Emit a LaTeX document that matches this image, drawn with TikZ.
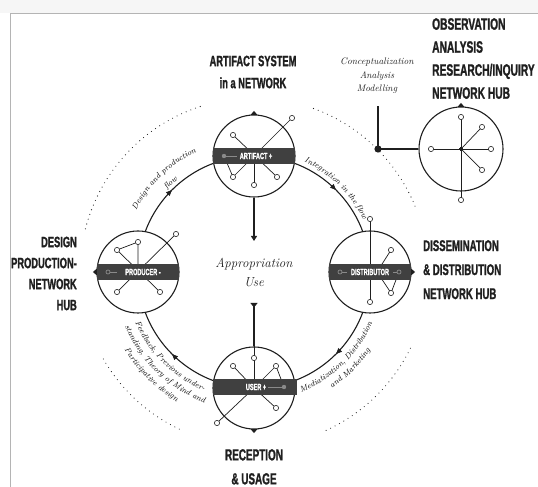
\documentclass[tikz,border=0pt]{standalone}
\usepackage{fontspec}
\usetikzlibrary{arrows.meta,decorations.markings,decorations.text}
\newfontfamily\headfont[FakeStretch=0.62,FakeBold=1.2]{Liberation Sans Bold}
\definecolor{ink}{HTML}{1F1F1F}
\definecolor{barfill}{HTML}{404040}
\definecolor{barline}{HTML}{8A8A8A}
\definecolor{framegray}{HTML}{B4B4B4}
\tikzset{
  ring/.style={draw=ink, line width=1.1pt},
  hubcircle/.style={circle, draw=ink, line width=1.1pt, fill=white, inner sep=0pt, minimum size=82pt},
  spoke/.style={draw=ink, line width=0.7pt},
  knob/.style={draw=ink, fill=white, line width=0.6pt},
  tagline/.style={draw=barline, line width=0.7pt},
  bartext/.style={text=white, inner sep=0pt, font=\headfont\fontsize{9}{9}\selectfont},
  heading/.style={text=ink, inner sep=0pt, font=\headfont\fontsize{15}{21}\selectfont},
  dotring/.style={draw=ink, line width=1.1pt, line cap=round, dash pattern=on 0pt off 5pt},
  curvetext/.style={decorate, decoration={text along path, text align=center, text={#1}}},
  tip/.style={fill=ink},
}
\newcommand\knob[1]{\filldraw[knob] #1 circle[radius=2.6pt];}
\newcommand\curvefont{\itshape\fontsize{8}{8}\selectfont}
\begin{document}
\begin{tikzpicture}[x=1pt,y=1pt]
  % page and frame
  \fill[white] (0,0) rectangle (538,487);
  \useasboundingbox (0,0) rectangle (538,487);
  \fill[gray!7] (0,474) rectangle (538,487);
  \draw[framegray, line width=0.8pt] (10,0) -- (10,474) -- (538,474);

  % outer dotted ring
  \draw[dotring] (254,215) ++(70:174pt) arc[start angle=70, end angle=22, radius=174pt];
  \draw[dotring] (254,215) ++(108:174pt) arc[start angle=108, end angle=166, radius=174pt];
  \draw[dotring] (254,215) ++(-26:174pt) arc[start angle=-26, end angle=-67, radius=174pt];
  \draw[dotring] (254,215) ++(210:174pt) arc[start angle=210, end angle=246, radius=174pt];

  % main flow ring, clockwise
  \draw[ring, postaction={decorate}, decoration={markings,
      mark=at position 0.125 with {\arrowreversed{Triangle[length=6pt,width=5pt]}},
      mark=at position 0.375 with {\arrowreversed{Triangle[length=6pt,width=5pt]}},
      mark=at position 0.625 with {\arrowreversed{Triangle[length=6pt,width=5pt]}},
      mark=at position 0.875 with {\arrowreversed{Triangle[length=6pt,width=5pt]}}}]
    (254,215) circle[radius=116pt];

  % flow labels
  \path[curvetext={|\curvefont|Design and production}] (254,215) ++(170:133pt) arc[start angle=170, end angle=98, radius=133pt];
  \path[curvetext={|\curvefont|flow}] (254,215) ++(160:120pt) arc[start angle=160, end angle=106, radius=120pt];
  \path[curvetext={|\curvefont|Integration in the flow}] (254,215) ++(85:121pt) arc[start angle=85, end angle=6, radius=121pt];
  \path[curvetext={|\curvefont|Mediatization, Distribution}] (254,215) ++(-92:129pt) arc[start angle=-92, end angle=0, radius=129pt];
  \path[curvetext={|\curvefont|and Marketing}] (254,215) ++(-80:140pt) arc[start angle=-80, end angle=-10, radius=140pt];
  \path[curvetext={|\curvefont|Feedback, Previous under-}] (254,215) ++(190:129pt) arc[start angle=190, end angle=260, radius=129pt];
  \path[curvetext={|\curvefont|standing, Theory of Mind and}] (254,215) ++(190:140pt) arc[start angle=190, end angle=262, radius=140pt];
  \path[curvetext={|\curvefont|Participative design}] (254,215) ++(195:151pt) arc[start angle=195, end angle=255, radius=151pt];

  % hub circles
  \node[hubcircle] (art) at (254,331) {};
  \node[hubcircle] (prod) at (138,215) {};
  \node[hubcircle] (dist) at (370,215) {};
  \node[hubcircle] (usr) at (254,99) {};
  \node[hubcircle, minimum size=84pt] (obs) at (461,338) {};

  % outward markers on the hubs
  \fill[tip] (art.north) ++(-3.5,-0.5) -- ++(7,0) -- ++(-3.5,4) -- cycle;
  \fill[tip] (prod.west) ++(0.5,-3.5) -- ++(0,7) -- ++(-4,-3.5) -- cycle;
  \fill[tip] (dist.east) ++(-0.5,-3.5) -- ++(0,7) -- ++(4,-3.5) -- cycle;
  \fill[tip] (usr.south) ++(-3.5,0.5) -- ++(7,0) -- ++(-3.5,-4) -- cycle;
  \fill[tip] (obs.north) ++(-3.5,-0.5) -- ++(7,0) -- ++(-3.5,4) -- cycle;

  % artifact network
  \draw[spoke] (233,352) -- (277,310);
  \draw[spoke] (292,369) -- (233,310);
  \draw[spoke] (art.center) -- (254,302);
  \draw[spoke] (224,331) -- (233,310);
  \fill[barfill] (213,323) rectangle (295,339);
  \draw[tagline] (224,331) -- (237,331);
  \fill[barline] (224,331) circle[radius=2.2pt];
  \node[bartext] (arttag) at (256,331) {ARTIFACT +};
  \knob{(233,352)} \knob{(277,310)} \knob{(292,369)} \knob{(233,310)} \knob{(254,302)}

  % producer network
  \draw[spoke] (117,237) -- (138,245) -- (138,215);
  \draw[spoke] (176,253) -- (117,195);
  \draw[spoke] (117,237) -- (160,195);
  \fill[barfill] (97,207) rectangle (179,223);
  \draw[tagline] (108,215) -- (117,215);
  \draw[tagline, fill=barfill] (108,215) circle[radius=2pt];
  \node[bartext] (prodtag) at (143,215) {PRODUCER -};
  \knob{(117,237)} \knob{(138,245)} \knob{(176,253)} \knob{(117,195)} \knob{(160,195)}

  % distributor network
  \draw[spoke] (370,268) -- (370,185);
  \draw[spoke] (391,237) -- (377,215) -- (391,194);
  \draw[spoke] (399,215) -- (391,194);
  \fill[barfill] (329,207) rectangle (411,223);
  \draw[tagline] (340,215) -- (347,215);
  \draw[tagline] (393,215) -- (399,215);
  \draw[tagline, fill=barfill] (340,215) circle[radius=2pt];
  \draw[tagline, fill=barfill] (399,215) circle[radius=2pt];
  \node[bartext] (disttag) at (370,215) {DISTRIBUTOR};
  \knob{(370,268)} \knob{(370,185)} \knob{(391,237)} \knob{(391,194)}

  % user network
  \draw[spoke] (usr.north) -- (usr.center);
  \draw[spoke] (233,121) -- (254,99);
  \draw[spoke] (276,121) -- (254,99);
  \draw[spoke] (276,121) -- (284,100);
  \draw[spoke] (217,64) -- (254,99);
  \draw[spoke] (276,79) -- (254,99);
  \fill[barfill] (213,92) rectangle (297,108);
  \draw[tagline] (268,100) -- (284,100);
  \fill[barline] (284,100) circle[radius=2.2pt];
  \node[bartext] (usrtag) at (256,100) {USER +};
  \knob{(254,129)} \knob{(233,121)} \knob{(276,121)} \knob{(217,64)} \knob{(276,79)}

  % observation hub network
  \foreach \p in {(461,370),(482,360),(491,338),(482,317),(431,338),(461,287)}
    \draw[spoke] (obs.center) -- \p;
  \foreach \p in {(461,370),(482,360),(491,338),(482,317),(431,338),(461,287)}
    \knob{\p}
  \fill[ink] (obs.center) circle[radius=1.8pt];

  % research link
  \coordinate (obsdot) at (378,338);
  \coordinate (linktop) at (378,381);
  \draw[ring] (obs.west) -- (obsdot) -- (linktop);
  \fill[ink] (obsdot) circle[radius=3.6pt];
  \node[text=ink, inner sep=0pt, align=center, font=\itshape\fontsize{9.5}{13.5}\selectfont] (concept) at (377,411)
    {Conceptualization\\Analysis\\Modelling};

  % appropriation
  \node[text=ink, inner sep=0pt, align=center, font=\itshape\fontsize{13}{19}\selectfont] (approp) at (254,215)
    {Appropriation\\Use};
  \coordinate (apptop) at (254,246);
  \coordinate (appbot) at (254,184);
  \draw[ring, -{Triangle[length=5pt,width=6pt]}] (art.south) -- (apptop);
  \draw[ring, -{Triangle[reversed,length=4.5pt,width=7pt]}] (usr.north) -- (appbot);

  % headings
  \node[heading, anchor=north, align=center, font=\headfont\fontsize{15}{22}\selectfont] (arthead) at (253,431.5)
    {ARTIFACT SYSTEM\\in a NETWORK};
  \node[heading, anchor=north west, align=left, font=\headfont\fontsize{16.5}{23}\selectfont] (obshead) at (432,469)
    {OBSERVATION\\ANALYSIS\\RESEARCH/INQUIRY\\NETWORK HUB};
  \node[heading, anchor=north east, align=right] (prodhead) at (77,250.5)
    {DESIGN\\PRODUCTION-\\NETWORK\\HUB};
  \node[heading, anchor=north west, align=left, font=\headfont\fontsize{15.5}{24}\selectfont] (disthead) at (423,247)
    {DISSEMINATION\\\& DISTRIBUTION\\NETWORK HUB};
  \node[heading, anchor=north, align=center, font=\headfont\fontsize{16}{24}\selectfont] (usrhead) at (254,38)
    {RECEPTION\\\& USAGE};
\end{tikzpicture}
\end{document}
